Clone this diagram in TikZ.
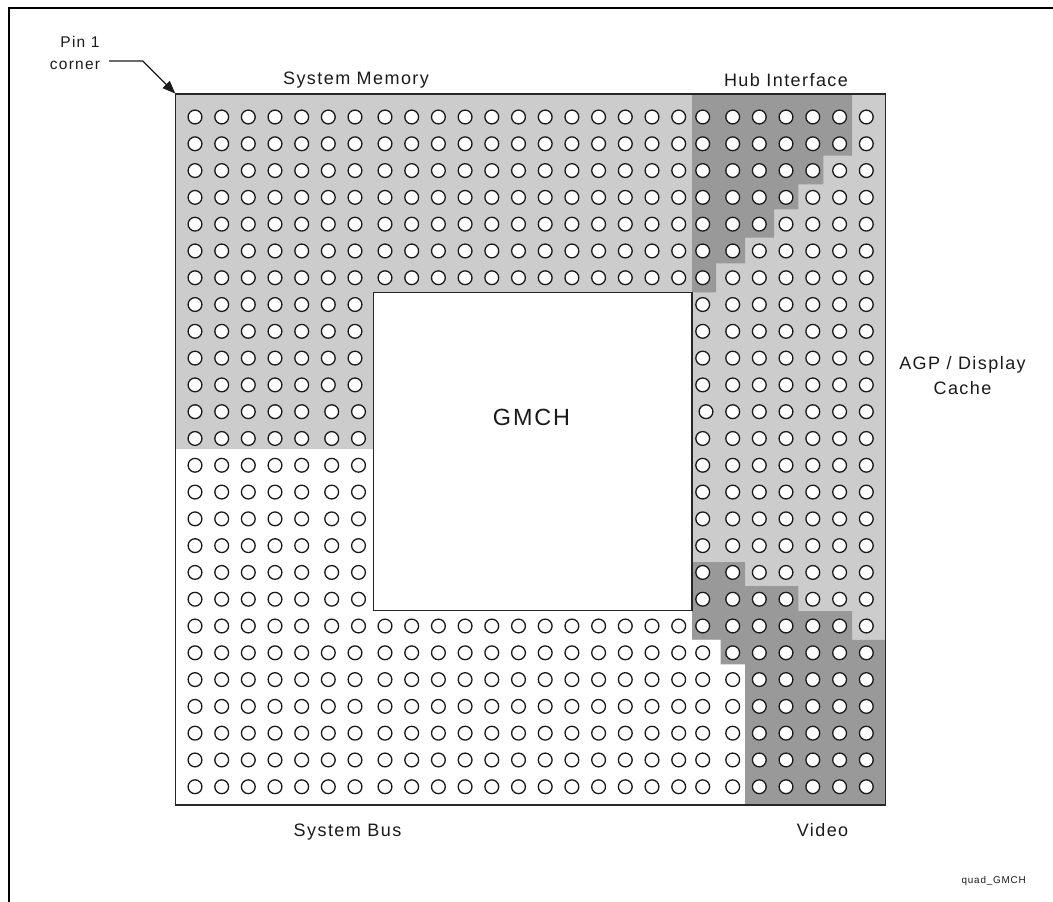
\documentclass[tikz,border=0pt]{standalone}
\usepackage{fontspec}
\setmainfont{Liberation Sans}
\newfontfamily\labfont[LetterSpace=8]{Liberation Sans}
\usetikzlibrary{arrows.meta}
\definecolor{lightpin}{HTML}{CCCCCC}
\definecolor{darkpin}{HTML}{999999}
\definecolor{inkc}{HTML}{1A1A1A}
\tikzset{
  x=1pt,y=-1pt,
  lab/.style={font=\labfont\fontsize{18}{24.7}\selectfont,text=inkc,inner sep=0pt,align=center,anchor=base},
  smalllab/.style={lab,font=\labfont\fontsize{15.5}{18}\selectfont},
  pin/.style={draw=inkc,fill=white,line width=1.3pt},
  frameline/.style={line width=2.2pt,draw=black},
  outline/.style={line width=1.3pt,draw=black!85},
}
\def\colsL{195,221.7,248.3,275,301.7,328.3,355}
\def\colsS{195,221.7,248.3,275,301.7,331.7,358.5}
\def\colsM{385,411.7,438.4,465.1,491.8,518.5,545.2,571.9,598.6,625.3,652,678.7}
\def\colsR{702.7,732.7,759.3,786,812.8,839.6,866.3}
\newcommand{\pinrow}[2]{\foreach \cx in #2 {\draw[pin] (\cx,117+26.79*#1) circle[radius=6.9];}}
\begin{document}
\begin{tikzpicture}
\useasboundingbox (0,0) rectangle (1053,902);
% page frame (top and left only)
\draw[frameline] (1053,8) -- (9,8) -- (9,902);
% light region
\fill[lightpin] (175.5,94) -- (885.5,94) -- (885.5,639.7) -- (692,639.7) -- (692,292.7) -- (373.3,292.7) -- (373.3,449) -- (175.5,449) -- cycle;
% dark regions
\fill[darkpin] (692,94) -- (852,94) -- (852,155.7) -- (823.3,155.7) -- (823.3,184.3) -- (798.3,184.3) -- (798.3,209.3) -- (774,209.3) -- (774,237.7) -- (745,237.7) -- (745,263.3) -- (716,263.3) -- (716,292.3) -- (692,292.3) -- cycle;
\fill[darkpin] (692,562) -- (745,562) -- (745,586) -- (798.3,586) -- (798.3,611) -- (852,611) -- (852,639.7) -- (885.5,639.7) -- (885.5,805) -- (745,805) -- (745,664.3) -- (720.7,664.3) -- (720.7,639.7) -- (692,639.7) -- cycle;
% package and die outline
\draw[outline] (175.5,94) rectangle (885.5,805);
\draw[outline,fill=white] (373.3,292.7) rectangle (692,610.7);
% pins
\foreach \r in {0,...,6} {\pinrow{\r}{\colsL}\pinrow{\r}{\colsM}\pinrow{\r}{\colsR}}
\foreach \r in {7,...,10} {\pinrow{\r}{\colsL}\pinrow{\r}{\colsR}}
\pinrow{11}{\colsS}
\pinrow{11}{{706,732.7,759.3,786,812.8,839.6,866.3}}
\foreach \r in {12,...,18} {\pinrow{\r}{\colsS}\pinrow{\r}{\colsR}}
\pinrow{19}{\colsS}\pinrow{19}{\colsM}\pinrow{19}{\colsR}
\foreach \r in {20,...,25} {\pinrow{\r}{\colsL}\pinrow{\r}{\colsM}\pinrow{\r}{\colsR}}
% labels
\node[smalllab] (pinone) at (80,47.5) {Pin 1};
\node[smalllab] (pincorner) at (75,69) {corner};
\coordinate (cornertip) at (175.3,93.6);
\coordinate (arrowstart) at (109,61);
\coordinate (arrowbend) at (142.7,61);
\draw[line width=1.2pt,draw=inkc,-{Stealth[length=13pt,width=10pt,inset=0pt]}] (arrowstart) -- (arrowbend) -- (cornertip);
\node[lab] (sysmem) at (356,84) {System Memory};
\node[lab] (hub) at (786,86) {Hub Interface};
\node[lab] (agp) at (962.5,369.3) {AGP / Display};
\node[lab] (cache) at (962.5,394) {Cache};
\node[lab,font=\labfont\fontsize{23.4}{27}\selectfont] (gmch) at (531.5,425) {GMCH};
\node[lab] (sysbus) at (347.5,836) {System Bus};
\node[lab] (video) at (822.5,836) {Video};
\node[lab,font=\labfont\fontsize{9.9}{12}\selectfont] (quad) at (993.7,883) {quad\_GMCH};
\end{tikzpicture}
\end{document}
